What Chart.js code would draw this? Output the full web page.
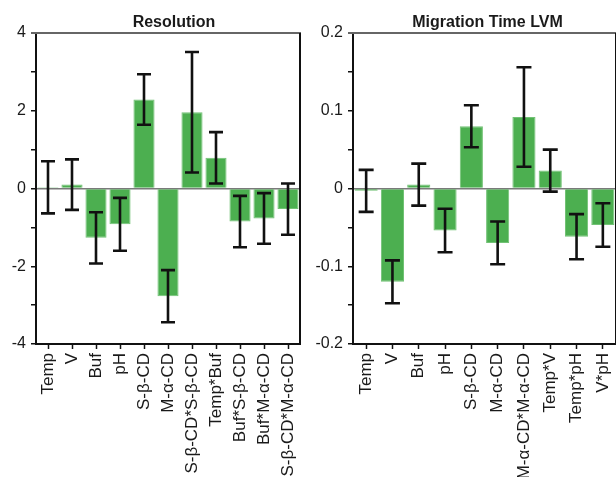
<!DOCTYPE html>
<html>
<head>
<meta charset="utf-8">
<script src="https://cdn.jsdelivr.net/npm/chart.js@4/dist/chart.umd.min.js"></script>
<style>
  html, body { margin:0; padding:0; background:#fff; width:616px; height:477px; overflow:hidden; }
  canvas { position:absolute; top:0; }
  #c1 { left:0; }
  #c2 { left:306px; }
</style>
</head>
<body>
<canvas id="c1" width="308" height="477"></canvas>
<canvas id="c2" width="316" height="477"></canvas>
<script>
// ---- data ----
const resCategories = ['Temp','V','Buf','pH','S-β-CD','M-α-CD','S-β-CD*S-β-CD','Temp*Buf','Buf*S-β-CD','Buf*M-α-CD','S-β-CD*M-α-CD'];
const resValues = [0.03, 0.10, -1.27, -0.92, 2.29, -2.77, 1.96, 0.79, -0.85, -0.77, -0.53];
const resErrors = [0.67, 0.65, 0.66, 0.68, 0.65, 0.67, 1.55, 0.66, 0.66, 0.65, 0.66];
const resYTickLabels = ['-4', '-2', '0', '2', '4'];

const migCategories = ['Temp','V','Buf','pH','S-β-CD','M-α-CD','M-α-CD*M-α-CD','Temp*V','Temp*pH','V*pH'];
const migValues = [-0.003, -0.120, 0.005, -0.054, 0.080, -0.070, 0.092, 0.023, -0.062, -0.047];
const migErrors = [0.027, 0.0275, 0.027, 0.028, 0.027, 0.0275, 0.064, 0.027, 0.029, 0.028];
const migYTickLabels = ['-0.2', '-0.1', '0', '0.1', '0.2'];

const FONT = "'Liberation Sans', Arial, sans-serif";
const TEXT = '#1a1a1a';
const GREEN = '#4caf50';

const errorBars = {
  id: 'errorBars',
  afterDatasetsDraw(chart, args, opts) {
    const ds = chart.data.datasets[0];
    const meta = chart.getDatasetMeta(0);
    const y = chart.scales.y;
    const ctx = chart.ctx;
    ctx.save();
    ctx.strokeStyle = '#111';
    ctx.lineWidth = 2.6;
    meta.data.forEach((bar, i) => {
      const v = ds.data[i], e = ds.errors[i];
      const yt = y.getPixelForValue(v + e), yb = y.getPixelForValue(v - e);
      const x = bar.x, hw = opts.cap / 2;
      ctx.beginPath();
      ctx.moveTo(x, yt); ctx.lineTo(x, yb);
      ctx.moveTo(x - hw, yt); ctx.lineTo(x + hw, yt);
      ctx.moveTo(x - hw, yb); ctx.lineTo(x + hw, yb);
      ctx.stroke();
    });
    ctx.restore();
  }
};

const frame = {
  id: 'frame',
  afterDraw(chart, args, opts) {
    const a = chart.chartArea, ctx = chart.ctx;
    ctx.save();
    ctx.lineWidth = 2;
    ctx.strokeStyle = '#666';
    ctx.beginPath(); ctx.moveTo(a.left - 5, a.top); ctx.lineTo(a.right + 1, a.top); ctx.stroke();
    ctx.strokeStyle = '#111';
    ctx.beginPath(); ctx.moveTo(a.right, a.top); ctx.lineTo(a.right, a.bottom); ctx.stroke();
    // title
    ctx.fillStyle = TEXT;
    ctx.font = "bold 16px " + FONT;
    ctx.textAlign = 'center';
    ctx.textBaseline = 'alphabetic';
    ctx.fillText(opts.text, (a.left + a.right) / 2 + opts.dx, 27);
    ctx.restore();
  }
};

function makeChart(id, cats, vals, errs, tickLabels, min, max, step, labelStep, yWidth, padRight, title, dx, cap) {
  return new Chart(document.getElementById(id), {
    type: 'bar',
    data: {
      labels: cats,
      datasets: [{
        data: vals,
        errors: errs,
        backgroundColor: GREEN,
        borderColor: '#72c275',
        borderWidth: 1,
        categoryPercentage: 0.88,
        barPercentage: 1.0
      }]
    },
    plugins: [errorBars, frame],
    options: {
      responsive: false,
      animation: false,
      layout: { padding: { top: 33, right: padRight, left: 0, bottom: 0 } },
      plugins: {
        legend: { display: false },
        tooltip: { enabled: false },
        errorBars: { cap: cap },
        frame: { text: title, dx: dx }
      },
      scales: {
        x: {
          afterFit: s => { s.height = 133; s.paddingLeft = 0; s.paddingRight = 0; },
          grid: { offset: false, drawOnChartArea: false, drawTicks: true, tickLength: 5, tickColor: '#111', tickWidth: 1.5 },
          border: { display: true, color: '#111', width: 2 },
          ticks: { autoSkip: false, minRotation: 90, maxRotation: 90, padding: 4, color: TEXT, font: { family: FONT, size: 17 } }
        },
        y: {
          min: min, max: max,
          afterFit: s => { s.width = yWidth; s.paddingTop = 0; s.paddingBottom = 0; },
          afterBuildTicks: s => {
            const t = [];
            const n = Math.round((max - min) / step);
            for (let i = 0; i <= n; i++) t.push({ value: +(min + i * step).toFixed(4) });
            s.ticks = t;
          },
          grid: {
            color: c => (c.tick && Math.abs(c.tick.value) < 1e-9) ? '#7a7a7a' : 'rgba(0,0,0,0)',
            lineWidth: 1.5,
            drawTicks: true, tickLength: 5, tickColor: '#111', tickWidth: 1.5
          },
          border: { display: true, color: '#111', width: 2 },
          ticks: {
            padding: 5,
            color: TEXT,
            font: { family: FONT, size: 16 },
            callback: v => {
              const idx = Math.round((v - min) / labelStep);
              if (Math.abs(min + idx * labelStep - v) > 1e-6) return '';
              return tickLabels[idx];
            }
          }
        }
      }
    }
  });
}

makeChart('c1', resCategories, resValues, resErrors, resYTickLabels, -4, 4, 1, 2, 36, 8, 'Resolution', 6, 14);
makeChart('c2', migCategories, migValues, migErrors, migYTickLabels, -0.2, 0.2, 0.05, 0.1, 47, 6, 'Migration Time LVM', 3, 15);
</script>
</body>
</html>
